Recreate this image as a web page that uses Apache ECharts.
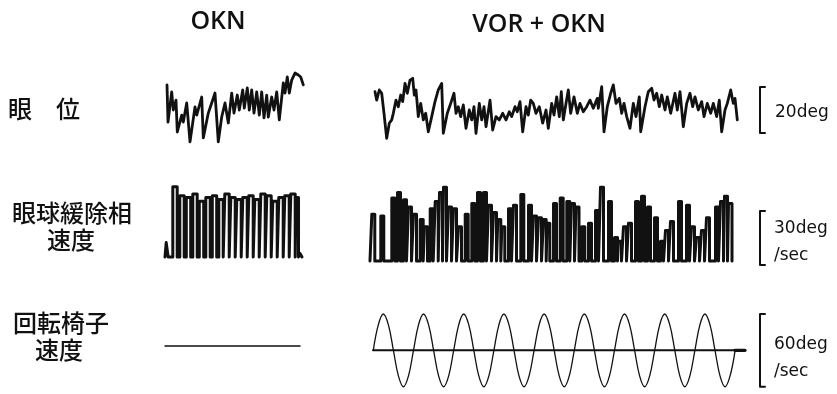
<!DOCTYPE html>
<html>
<head>
<meta charset="utf-8">
<script src="https://cdn.jsdelivr.net/npm/echarts@6/dist/echarts.min.js"></script>
<style>
  html, body { margin: 0; background: #fff; }
  #chart { width: 837px; height: 394px; }
</style>
</head>
<body>
<div id="chart"></div>
<script>
// 眼位 (deg) — OKN
const oknPosT = [0.2,0.3,0.67,0.83,1.1,1.23,1.67,1.83,2.17,2.5,3.0,3.17,3.67,3.83,4.33,4.67,5.0,5.33,5.67,6.0,6.33,6.67,6.9,7.23,7.43,7.77,7.93,8.23,8.43,8.67,8.9,9.17,9.43,9.67,9.9,10.17,10.33,10.67,10.9,11.17,11.43,11.83,12.0,12.23,12.43,12.67,13.0,13.33,13.57,13.83]
const oknPosV = [11.4,-5.5,8.2,0,4.5,-10,-2.3,-5.5,3.2,-14.5,1.4,-2.3,5.9,-12.7,-1.4,3.2,7.7,-14.5,-3.2,3.2,-5.9,7.7,-1.4,6.8,0,9.1,0.9,10,0,9.1,-1.4,8.2,-2.3,8.2,-3.6,6.8,-3.2,5.9,0,8.2,-4.5,12.3,7.7,15,7.7,13.6,16.8,15.9,15,11.4]

// 眼位 (deg) — VOR + OKN
const vorPosT = [0.3,0.47,0.73,0.97,1.2,1.47,1.73,1.97,2.13,2.4,2.63,2.87,3.07,3.3,3.53,3.8,4.07,4.23,4.4,4.63,4.87,5.13,5.37,5.63,5.97,6.3,6.63,6.97,7.13,7.53,7.87,8.2,8.4,8.63,8.87,9.13,9.4,9.73,9.97,10.2,10.4,10.73,10.97,11.2,11.4,11.8,12.07,12.4,12.73,13.07,13.4,13.73,13.97,14.3,14.53,14.8,15.07,15.4,15.63,15.87,16.13,16.4,16.73,17.07,17.4,17.63,17.97,18.2,18.47,18.73,18.93,19.13,19.4,19.63,19.87,20.2,20.53,20.8,21.13,21.47,21.8,22.13,22.53,22.63,22.97,23.2,23.53,23.87,24.13,24.4,24.73,24.97,25.2,25.47,25.8,26.13,26.4,26.73,26.87,27.3,27.63,27.97,28.2,28.47,28.73,28.97,29.3,29.53,29.87,30.3,30.53,30.8,31.13,31.47,31.8,32.07,32.3,32.63,32.97,33.2,33.53,33.87,34.13,34.47,34.73,34.97,35.3,35.53,35.87,36.13,36.3,36.53]
const vorPosV = [8.3,4.5,9.1,7.6,-1.5,-12.9,-6.0,-4.5,-1.5,4.5,1.5,6.8,3.8,12.1,7.6,13.6,14.4,6.8,9.1,-3.0,3.0,-4.5,-1.5,-9.9,-3.0,3.8,9.1,12.1,-10.6,-1.5,3.0,7.6,-1.5,1.5,-3.0,2.3,-8.3,0,-4.5,1.5,-10.6,3.0,-4.5,1.5,-7.6,4.5,-9.1,-3.0,-4.5,-1.5,-4.5,-0.8,-3.0,1.5,-0.8,3.8,-9.9,1.5,-2.3,4.5,3.0,-1.5,1.5,-6.0,0,-8.3,3.0,-2.3,6.0,-3.0,8.3,-4.5,3.0,9.1,-1.5,6.0,-1.5,3.0,-0.8,1.5,4.5,0.8,5.3,0.8,10.6,-9.9,1.5,7.6,11.4,3.0,5.3,-1.5,3.0,-3.0,-8.3,3.0,-3.0,6.0,-9.9,1.5,8.3,9.9,4.5,7.6,1.5,6.8,0,6.0,-1.5,7.6,0,8.3,-7.6,3.0,7.6,1.5,6.0,0,3.8,-3.0,3.0,-1.5,3.0,-3.0,4.5,-9.9,0,3.0,9.1,3.0,5.3,-4.5]

// 眼球緩除相速度 (deg/sec) — each beat: on time, off time, peak
const oknVelOn = [0.12,0.78,1.48,2.13,2.78,3.43,4.08,4.73,5.38,5.98,6.58,7.18,7.78,8.38,8.98,9.58,10.18,10.78,11.38,11.98,12.58,13.1,13.5]
const oknVelOff = [0.32,1.22,1.92,2.57,3.22,3.87,4.52,5.17,5.82,6.42,7.02,7.62,8.22,8.82,9.42,10.02,10.62,11.22,11.82,12.42,13.02,13.35,13.7]
const oknVelPeak = [8,39,34,33,35,31,33,34,32,35,33,32,33,34,32,35,34,31,33,34,35,33,2]

const vorVelOn = [0.18,1.08,2.18,2.75,3.35,3.85,4.35,5.02,5.45,6.02,6.52,6.95,7.35,7.85,8.35,8.85,9.52,10.18,10.75,11.35,11.85,12.35,12.78,13.18,13.85,14.35,15.08,15.85,16.35,16.85,17.35,17.7,18.35,19.02,19.68,20.15,20.6,21.18,21.85,22.55,23.05,23.85,24.45,24.85,25.35,25.85,26.55,27.15,27.75,28.45,29.05,29.55,30.05,30.85,31.65,32.15,32.65,33.15,33.65,34.55,35.05,35.45,35.85]
const vorVelOff = [0.48,1.38,2.48,3.05,3.65,4.15,4.65,5.32,5.75,6.32,6.82,7.25,7.65,8.15,8.65,9.15,9.82,10.48,11.05,11.65,12.15,12.65,13.08,13.48,14.15,14.65,15.38,16.15,16.65,17.15,17.62,17.98,18.65,19.32,19.98,20.45,20.9,21.48,22.15,22.85,23.35,24.15,24.75,25.15,25.65,26.15,26.85,27.45,28.05,28.75,29.35,29.85,30.35,31.15,31.95,32.45,32.95,33.45,33.95,34.85,35.35,35.75,36.2]
const vorVelPeak = [26,25,35,38,34,30,26,23,19,29,33,38,41,30,29,19,26,32,38,38,31,27,23,19,29,31,37,31,25,24,23,21,32,35,33,32,30,19,21,28,41,33,13,11,19,21,33,36,30,24,11,17,22,33,31,19,13,17,24,30,33,36,32]

// 回転椅子速度 (deg/sec)
const oknChairT = [0, 13.5]
const oknChairV = [0, 0]
const chairT = [0.13,0.63,1.13,1.64,2.14,2.64,3.15,3.65,4.15,4.65,5.15,5.66,6.16,6.66,7.17,7.67,8.17,8.67,9.17,9.68,10.18,10.68,11.19,11.69,12.19,12.69,13.19,13.7,14.2,14.7,15.21,15.71,16.21,16.71,17.21,17.72,18.22,18.72,19.23,19.73,20.23,20.73,21.23,21.74,22.24,22.74,23.25,23.75,24.25,24.75,25.25,25.76,26.26,26.76,27.27,27.77,28.27,28.77,29.27,29.78,30.28,30.78,31.29,31.79,32.29,32.79,33.29,33.8,34.3,34.8,35.31,35.81,36.31]
const chairV = [0,21,30,21,0,-21,-30,-21,0,21,30,21,0,-21,-30,-21,0,21,30,21,0,-21,-30,-21,0,21,30,21,0,-21,-30,-21,0,21,30,21,0,-21,-30,-21,0,21,30,21,0,-21,-30,-21,0,21,30,21,0,-21,-30,-21,0,21,30,21,0,-21,-30,-21,0,21,30,21,0,-21,-30,-21,0]
const chairBaseT = [0.1, 37.3]
const chairEndT = [36.3, 37.3]

// scale bars
const scaleLow = [-10.5, -2.2, -30]
const scaleHigh = [10.5, 27.8, 30]

const pairs = (t, v) => t.map((x, i) => [x, v[i]])

const pulses = (on, off, peak) => {
  const d = [[0, 0]]
  on.forEach((t, i) => {
    d.push([t, peak[i]])
    d.push([off[i], 0])
  })
  return d
}

const bracket = (i) => [[1, scaleHigh[i]], [0, scaleHigh[i]], [0, scaleLow[i]], [1, scaleLow[i]]]

const grids = [
  { left: 165, top: 66, width: 140, height: 88, xMax: 14, yMin: -20, yMax: 20 },
  { left: 372, top: 66, width: 370, height: 88, xMax: 37, yMin: -20, yMax: 20 },
  { left: 760, top: 66, width: 5, height: 88, xMax: 1, yMin: -20, yMax: 20 },
  { left: 165, top: 181.4, width: 140, height: 82.8, xMax: 14, yMin: -4, yMax: 42 },
  { left: 370, top: 185.4, width: 370, height: 82.8, xMax: 37, yMin: -4, yMax: 42 },
  { left: 760, top: 185.4, width: 5, height: 82.8, xMax: 1, yMin: -4, yMax: 42 },
  { left: 165, top: 301, width: 140, height: 90, xMax: 14, yMin: -36, yMax: 36 },
  { left: 372, top: 306.7, width: 380, height: 90, xMax: 38, yMin: -36, yMax: 36 },
  { left: 760, top: 306.7, width: 5, height: 90, xMax: 1, yMin: -36, yMax: 36 }
]

const line = (idx, data, width, extra) => Object.assign({
  type: 'line',
  xAxisIndex: idx,
  yAxisIndex: idx,
  data: data,
  showSymbol: false,
  clip: false,
  silent: true,
  lineStyle: { color: '#111', width: width, join: 'round', cap: 'round' }
}, extra || {})

const text = (str, x, y, font, align) => ({
  type: 'text',
  x: x,
  y: y,
  style: {
    text: str,
    font: font,
    fill: '#111',
    textAlign: align || 'left',
    textVerticalAlign: 'middle'
  }
})

const titleFont = '600 25px "Open Sans"'
const jpFont = '500 24px "Noto Sans CJK JP"'
const unitFont = '17px "DejaVu Sans"'

const chart = echarts.init(document.getElementById('chart'))

chart.setOption({
  animation: false,
  backgroundColor: '#fff',
  grid: grids.map(g => ({ left: g.left, top: g.top, width: g.width, height: g.height })),
  xAxis: grids.map((g, i) => ({ gridIndex: i, type: 'value', min: 0, max: g.xMax, show: false })),
  yAxis: grids.map((g, i) => ({ gridIndex: i, type: 'value', min: g.yMin, max: g.yMax, show: false })),
  series: [
    line(0, pairs(oknPosT, oknPosV), 2.8),
    line(1, pairs(vorPosT, vorPosV), 2.8),
    line(2, bracket(0), 2),
    line(3, pulses(oknVelOn, oknVelOff, oknVelPeak), 3, { step: 'end' }),
    line(4, pulses(vorVelOn, vorVelOff, vorVelPeak), 3, { step: 'end' }),
    line(5, bracket(1), 2),
    line(6, pairs(oknChairT, oknChairV), 1.5),
    line(7, pairs(chairT, chairV), 1.3, { smooth: 0.4 }),
    line(7, pairs(chairBaseT, [0, 0]), 2),
    line(7, pairs(chairEndT, [0, 0]), 3.2),
    line(8, bracket(2), 2)
  ],
  graphic: [
    text('OKN', 218, 22, titleFont, 'center'),
    text('VOR + OKN', 539, 25, titleFont, 'center'),
    text('眼　位', 8, 109, jpFont),
    text('眼球緩除相', 72, 213, jpFont, 'center'),
    text('速度', 71, 240, jpFont, 'center'),
    text('回転椅子', 61, 323, jpFont, 'center'),
    text('速度', 59, 350, jpFont, 'center'),
    text('20deg', 775, 113, unitFont),
    text('30deg', 774, 229, unitFont),
    text('/sec', 774, 256, unitFont),
    text('60deg', 774, 345, unitFont),
    text('/sec', 774, 372, unitFont)
  ]
})
</script>
</body>
</html>
